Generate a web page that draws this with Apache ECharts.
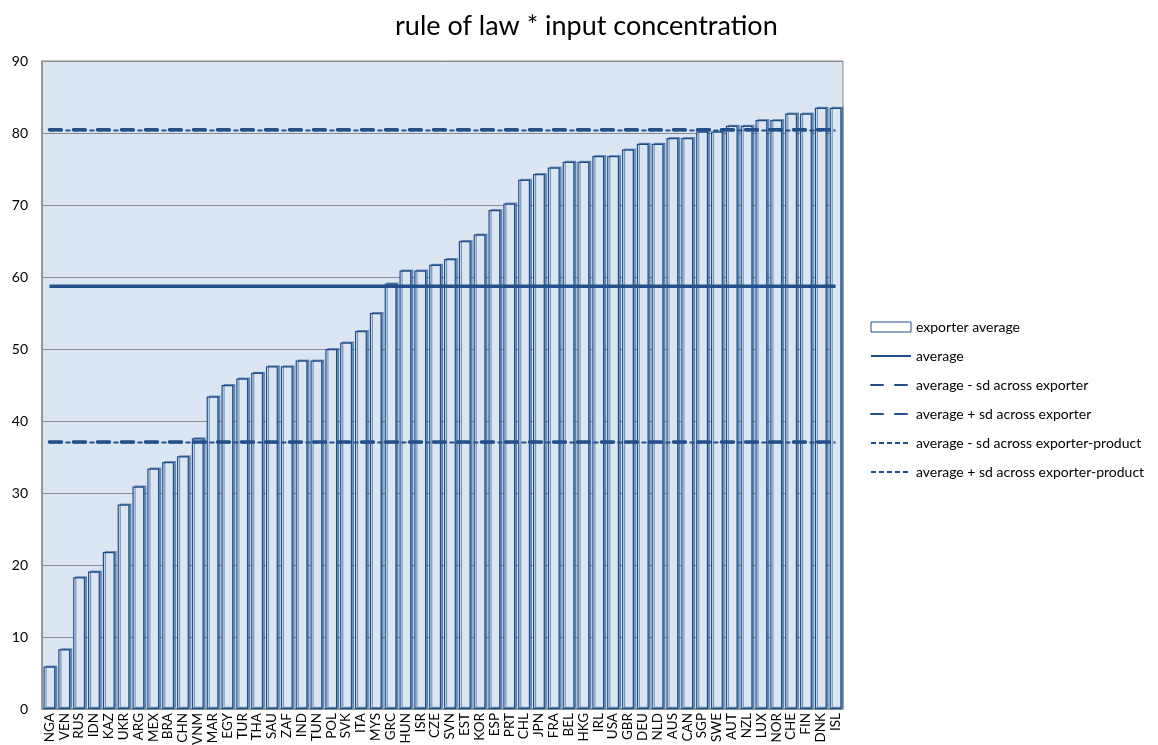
<!DOCTYPE html>
<html>
<head>
<meta charset="utf-8">
<title>rule of law * input concentration</title>
<script src="https://cdn.jsdelivr.net/npm/echarts@6/dist/echarts.min.js"></script>
<style>
  html, body { margin: 0; padding: 0; background: #fff; }
  #chart { width: 1158px; height: 745px; }
</style>
</head>
<body>
<div id="chart"></div>
<script>
// exporters, sorted by rule of law score
var countries = ['NGA','VEN','RUS','IDN','KAZ','UKR','ARG','MEX','BRA','CHN','VNM','MAR','EGY','TUR','THA','SAU','ZAF','IND','TUN','POL','SVK','ITA','MYS','GRC','HUN','ISR','CZE','SVN','EST','KOR','ESP','PRT','CHL','JPN','FRA','BEL','HKG','IRL','USA','GBR','DEU','NLD','AUS','CAN','SGP','SWE','AUT','NZL','LUX','NOR','CHE','FIN','DNK','ISL'];

var exporterAverage = [5.9, 8.3, 18.3, 19.1, 21.8, 28.4, 30.9, 33.4, 34.3, 35.1, 37.6, 43.4, 45.0, 45.9, 46.7, 47.6, 47.6, 48.4, 48.4, 50.0, 50.9, 52.5, 55.0, 59.1, 60.9, 60.9, 61.7, 62.5, 65.0, 65.9, 69.3, 70.2, 73.5, 74.3, 75.2, 76.0, 76.0, 76.8, 76.8, 77.7, 78.5, 78.5, 79.3, 79.3, 80.2, 80.2, 81.0, 81.0, 81.8, 81.8, 82.7, 82.7, 83.5, 83.5];

// reference levels
var average = 58.7;
var avgMinusSdExporter = 37.1;
var avgPlusSdExporter = 80.45;
var avgMinusSdProduct = 37.0;
var avgPlusSdProduct = 80.35;

var yTicks = [0, 10, 20, 30, 40, 50, 60, 70, 80, 90];

var lineColor = '#23508a';
var font = 'Lato, "Open Sans", sans-serif';

function flat(v) {
    return countries.map(function () { return v; });
}

// line legend entries: hide the marker, keep the line
function lineLegend(name) {
    return { name: name, itemStyle: { opacity: 0 } };
}

var chart = echarts.init(document.getElementById('chart'));

var option = {
    animation: false,
    backgroundColor: '#fff',
    textStyle: { fontFamily: font },
    title: {
        text: 'rule of law * input concentration',
        left: 390,
        top: 8,
        textStyle: { fontFamily: font, fontSize: 27, fontWeight: 'normal', color: '#000' }
    },
    legend: {
        orient: 'vertical',
        left: 865,
        top: 315,
        itemWidth: 40,
        itemHeight: 10,
        itemGap: 15,
        textStyle: { fontFamily: font, fontSize: 14, color: '#000' },
        data: [
            { name: 'exporter average', icon: 'rect', itemStyle: { color: '#fff', borderColor: lineColor, borderWidth: 1 } },
            lineLegend('average'),
            lineLegend('average - sd across exporter'),
            lineLegend('average + sd across exporter'),
            lineLegend('average - sd across exporter-product'),
            lineLegend('average + sd across exporter-product')
        ]
    },
    grid: {
        left: 42,
        right: 315,
        top: 61,
        bottom: 36,
        outerBoundsMode: 'none',
        show: true,
        backgroundColor: '#dce6f2',
        borderColor: '#8a8a8a',
        borderWidth: 1
    },
    xAxis: {
        type: 'category',
        data: countries,
        axisLine: { lineStyle: { color: '#8a8a8a', width: 1.5 } },
        axisTick: { show: false },
        axisLabel: {
            rotate: 90,
            interval: 0,
            margin: 4,
            fontFamily: font,
            fontSize: 13.5,
            color: '#000'
        }
    },
    yAxis: {
        type: 'value',
        min: yTicks[0],
        max: yTicks[yTicks.length - 1],
        interval: 10,
        axisLine: { show: true, lineStyle: { color: '#8a8a8a', width: 1.5 } },
        axisTick: { show: false },
        splitLine: { lineStyle: { color: '#8c8c8c', width: 1 } },
        axisLabel: { fontFamily: font, fontSize: 14, color: '#000', margin: 14 }
    },
    series: [
        {
            name: 'exporter average',
            type: 'bar',
            data: exporterAverage,
            barCategoryGap: '20%',
            itemStyle: {
                color: '#dce6f2',
                borderColor: '#1f4d88',
                borderWidth: 1.2,
                shadowColor: 'rgba(40, 85, 145, 0.55)',
                shadowOffsetX: 2,
                shadowOffsetY: -1,
                shadowBlur: 0
            }
        },
        {
            name: 'average',
            type: 'line',
            data: flat(average),
            symbol: 'none',
            lineStyle: { color: lineColor, width: 3.5 },
            itemStyle: { color: lineColor }
        },
        {
            name: 'average - sd across exporter',
            type: 'line',
            data: flat(avgMinusSdExporter),
            symbol: 'none',
            lineStyle: { color: lineColor, width: 3.5, type: [12, 12], cap: 'round' },
            itemStyle: { color: lineColor }
        },
        {
            name: 'average + sd across exporter',
            type: 'line',
            data: flat(avgPlusSdExporter),
            symbol: 'none',
            lineStyle: { color: lineColor, width: 3.5, type: [12, 12], cap: 'round' },
            itemStyle: { color: lineColor }
        },
        {
            name: 'average - sd across exporter-product',
            type: 'line',
            data: flat(avgMinusSdProduct),
            symbol: 'none',
            lineStyle: { color: lineColor, width: 2, type: [5, 3] },
            itemStyle: { color: lineColor }
        },
        {
            name: 'average + sd across exporter-product',
            type: 'line',
            data: flat(avgPlusSdProduct),
            symbol: 'none',
            lineStyle: { color: lineColor, width: 2, type: [5, 3] },
            itemStyle: { color: lineColor }
        }
    ]
};

chart.setOption(option);
</script>
</body>
</html>
